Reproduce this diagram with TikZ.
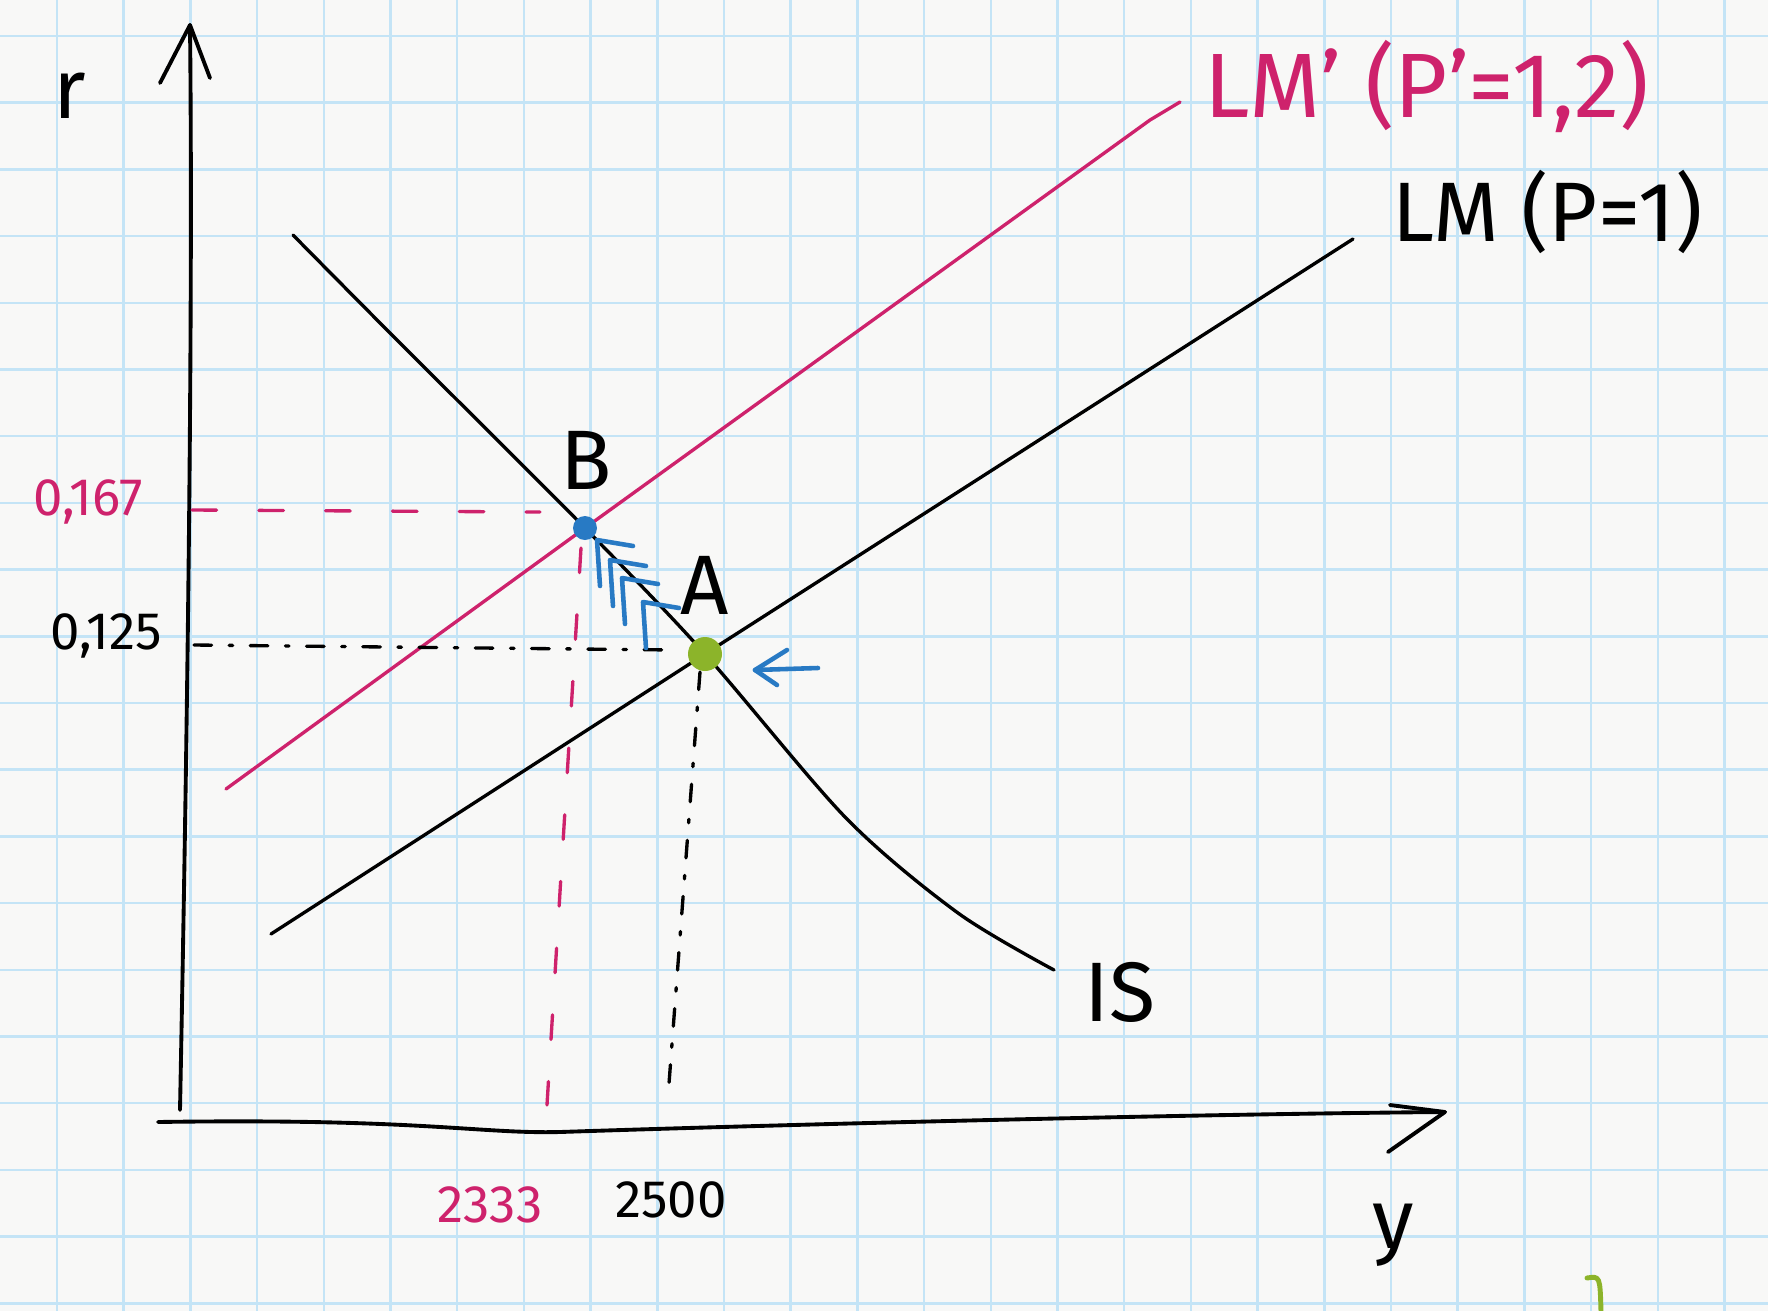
\documentclass[tikz,border=0pt]{standalone}
\usepackage{fontspec}
\setmainfont{Fira Sans}
\definecolor{paper}{RGB}{248,248,247}
\definecolor{gridblue}{RGB}{196,228,246}
\definecolor{lmpink}{RGB}{206,34,108}
\definecolor{arrowblue}{RGB}{40,122,196}
\definecolor{dotgreen}{RGB}{140,180,42}
\begin{document}
\begin{tikzpicture}[x=0.01cm,y=-0.01cm,line cap=round,line join=round,
  gridline/.style={draw=gridblue,line width=0.7pt},
  axis/.style={line width=1.1pt},
  curve/.style={line width=0.95pt},
  pinkdash/.style={lmpink,line width=0.95pt,dash pattern=on 7pt off 12pt},
  blackdash/.style={line width=0.95pt,dash pattern=on 5pt off 5pt on 1pt off 5pt},
  moveline/.style={arrowblue,line width=1.3pt},
  hand/.style={font=\fontsize{24}{26}\selectfont},
  tick/.style={font=\fontsize{15}{17}\selectfont}]
\def\gx{57}
\def\gy{36}
\def\gs{66.7}

\fill[paper] (0,0) rectangle (1768,1311);
\useasboundingbox (0,0) rectangle (1768,1311);
\foreach \i in {0,...,25}
  \draw[gridline] ({\gx+\gs*\i},0) -- ({\gx+\gs*\i},1311);
\foreach \j in {0,...,19}
  \draw[gridline] (0,{\gy+\gs*\j}) -- (1768,{\gy+\gs*\j});

\coordinate (O) at (180,1110);
\coordinate (ytop) at (190,25);
\coordinate (xleft) at (158,1122);
\coordinate (xright) at (1445,1112);
\coordinate (A) at (705,654);
\coordinate (B) at (585,528);

% axes
\draw[axis] (O) .. controls (188,700) and (193,300) .. (ytop);
\draw[axis] (160,83) -- (ytop) -- (210,78);
\draw[axis] (xleft) .. controls (420,1118) and (480,1134) .. (560,1132)
  .. controls (800,1124) and (1200,1114) .. (xright);
\draw[axis] (1390,1105) -- (xright) -- (1388,1152);
\node[hand] (rlabel) at (70,96) {r};
\node[hand] (ylabel) at (1393,1235) {y};

% IS, LM, LM'
\draw[curve] plot[smooth] coordinates {(293,235) (395,338) (B) (A) (846,818) (958,913) (1054,970)};
\draw[curve] (271,934) -- (A) -- (1353,239);
\draw[curve,lmpink] (226,789) -- (B) -- (1150,120) .. controls (1165,110) .. (1180,102);
\node[hand,anchor=west] (islabel) at (1072,992) {IS};
\node[hand,anchor=west] (lmlabel) at (1380,212) {LM (P=1)};
\node[hand,anchor=west,lmpink,font=\fontsize{26}{28}\selectfont] (lmplabel) at (1192,86) {LM' (P'=1,2)};

% levels
\coordinate (rBax) at (192,510);
\coordinate (rAax) at (194,645);
\coordinate (yBax) at (547,1105);
\coordinate (yAax) at (668,1097);
\draw[pinkdash] (rBax) -- (540,512);
\draw[pinkdash] (581,548) -- (yBax);
\draw[blackdash] (rAax) -- (675,650);
\draw[blackdash] (700,672) -- (yAax);
\node[tick,lmpink] (rBlabel) at (88,502) {0,167};
\node[tick] (rAlabel) at (106,636) {0,125};
\node[tick,lmpink] (yBlabel) at (490,1205) {2333};
\node[tick] (yAlabel) at (671,1200) {2500};

% adjustment
\foreach \tx/\ty in {597/540, 610/560, 622/578, 643/602}
  \draw[moveline] (\tx+36,\ty+6) -- (\tx,\ty) -- (\tx+3,\ty+46);
\draw[moveline] (818,668) -- (755,670);
\draw[moveline] (787,650) -- (755,670) -- (777,685);
\fill[arrowblue] (B) circle (12);
\fill[dotgreen] (A) circle (17);
\node[hand] (Blabel) at (586,460) {B};
\node[hand] (Alabel) at (705,585) {A};

\draw[dotgreen,line width=1.4pt] (1587,1278) .. controls (1600,1276) .. (1601,1311);
\end{tikzpicture}
\end{document}
